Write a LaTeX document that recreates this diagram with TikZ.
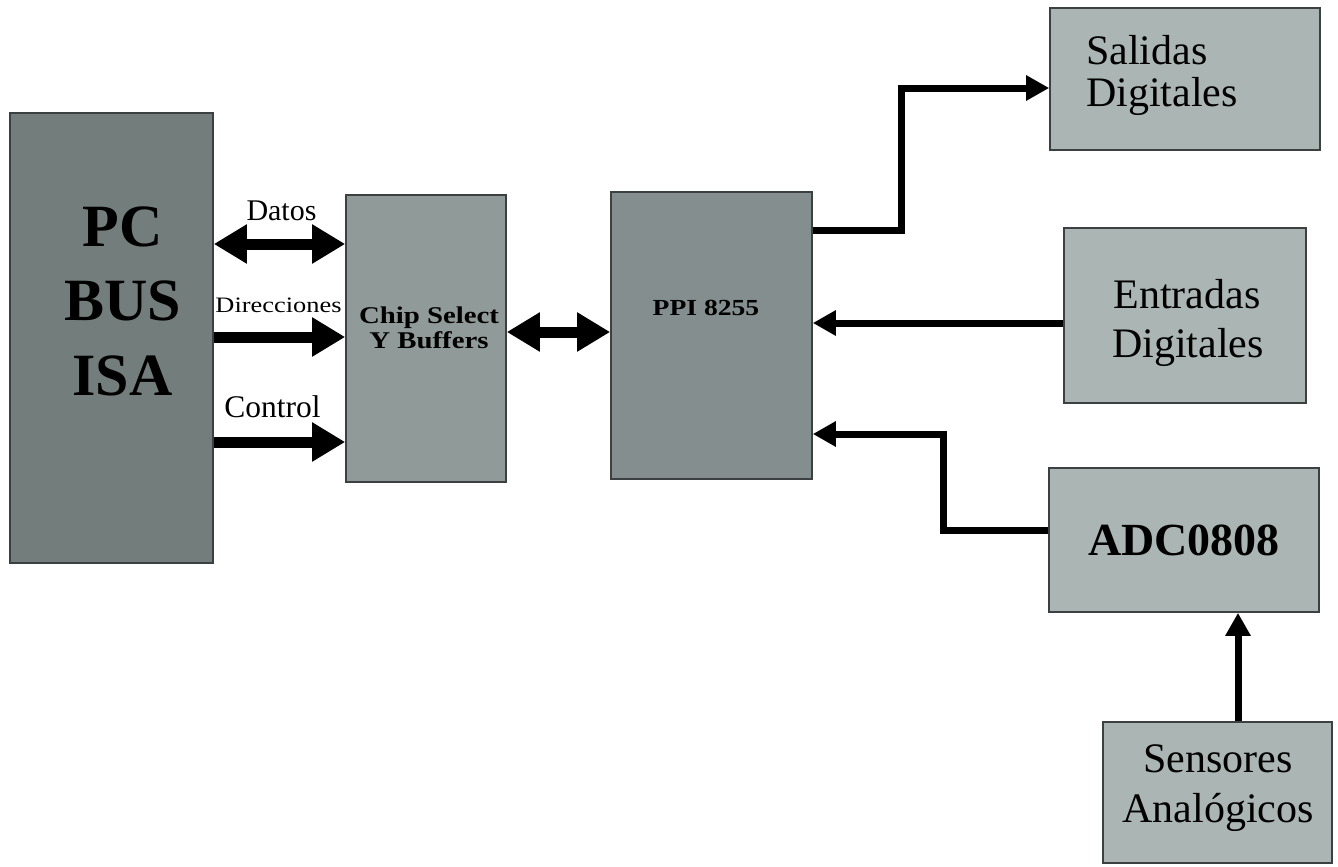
\documentclass[tikz,border=0pt]{standalone}
\usepackage{fontspec}
\setmainfont{Liberation Serif}
\newfontfamily\widefont[FakeStretch=1.2]{Liberation Serif}
\usetikzlibrary{arrows.meta}
\definecolor{pcgray}{HTML}{737D7B}
\definecolor{chipgray}{HTML}{909A98}
\definecolor{ppigray}{HTML}{848E8E}
\definecolor{lightgray2}{HTML}{ABB6B4}
\definecolor{edgegray}{HTML}{3C4040}
\tikzset{
  blockbox/.style={draw=edgegray, line width=1.6pt, inner sep=0pt},
  lbl/.style={anchor=base, inner sep=0pt},
  busboth/.style={line width=11pt, {Triangle[length=33pt,width=37pt]}-{Triangle[length=33pt,width=37pt]}},
  busone/.style={line width=11pt, -{Triangle[length=33pt,width=37pt]}},
  sigline/.style={line width=7pt, miter limit=10, -{Triangle[length=23pt,width=24pt]}}
}
\begin{document}
\begin{tikzpicture}[x=1pt,y=-1pt]
\useasboundingbox (0,0) rectangle (1338,867);
\fill[white] (0,0) rectangle (1338,867);
% boxes
\node[blockbox, fill=pcgray, minimum width=203pt, minimum height=450pt] (pc) at (111.5,338) {};
\node[blockbox, fill=chipgray, minimum width=160pt, minimum height=287pt] (chip) at (426,338.5) {};
\node[blockbox, fill=ppigray, minimum width=201pt, minimum height=287pt] (ppi) at (711.5,335.5) {};
\node[blockbox, fill=lightgray2, minimum width=270pt, minimum height=142pt] (sal) at (1185,79) {};
\node[blockbox, fill=lightgray2, minimum width=242pt, minimum height=175pt] (ent) at (1185,315.5) {};
\node[blockbox, fill=lightgray2, minimum width=270pt, minimum height=144pt] (adc) at (1184,540) {};
\node[blockbox, fill=lightgray2, minimum width=229pt, minimum height=141pt] (sens) at (1217.5,792.5) {};
% texts
\node[lbl, font=\bfseries\fontsize{60}{60}\selectfont] (tpc) at (122.5,246.7) {PC};
\node[lbl, font=\bfseries\fontsize{60}{60}\selectfont] (tbus) at (123,320) {BUS};
\node[lbl, font=\bfseries\fontsize{60}{60}\selectfont] (tisa) at (122.5,395) {ISA};
\node[lbl, font=\widefont\bfseries\fontsize{24}{24}\selectfont] (tchip1) at (429,323.5) {Chip Select};
\node[lbl, font=\widefont\bfseries\fontsize{24}{24}\selectfont] (tchip2) at (429,348) {Y Buffers};
\node[lbl, font=\widefont\bfseries\fontsize{23}{23}\selectfont] (tppi) at (706,315) {PPI 8255};
\node[lbl, anchor=base west, font=\fontsize{42}{42}\selectfont] (tsal1) at (1086,65) {Salidas};
\node[lbl, anchor=base west, font=\fontsize{42}{42}\selectfont] (tsal2) at (1086,106) {Digitales};
\node[lbl, font=\fontsize{42}{42}\selectfont] (tent1) at (1187,308) {Entradas};
\node[lbl, font=\fontsize{42}{42}\selectfont] (tent2) at (1188,357) {Digitales};
\node[lbl, font=\bfseries\fontsize{46}{46}\selectfont] (tadc) at (1184,555) {ADC0808};
\node[lbl, font=\fontsize{42}{42}\selectfont] (tsens1) at (1218,772) {Sensores};
\node[lbl, font=\fontsize{42}{42}\selectfont] (tsens2) at (1218,822) {Analógicos};
\node[lbl, font=\fontsize{30}{30}\selectfont] (tdatos) at (281.5,220.7) {Datos};
\node[lbl, font=\widefont\fontsize{22}{22}\selectfont] (tdir) at (278.5,312.7) {Direcciones};
\node[lbl, font=\fontsize{31.5}{31.5}\selectfont] (tctl) at (272.5,417) {Control};
% connectors
\draw[busboth] (pc.east |- 0,244) -- (chip.west |- 0,244);
\draw[busone] (pc.east |- 0,337) -- (chip.west |- 0,337);
\draw[busone] (pc.east |- 0,442) -- (chip.west |- 0,442);
\draw[busboth] (chip.east |- 0,332) -- (ppi.west |- 0,332);
\draw[sigline] (ppi.east |- 0,230) -| (901,88) -- (sal.west |- 0,88);
\draw[sigline] (ent.west |- 0,323) -- (ppi.east |- 0,323);
\draw[sigline] (adc.west |- 0,530) -| (943,434) -- (ppi.east |- 0,434);
\draw[sigline] (sens.north -| 1238,0) -- (adc.south -| 1238,0);
\end{tikzpicture}
\end{document}
